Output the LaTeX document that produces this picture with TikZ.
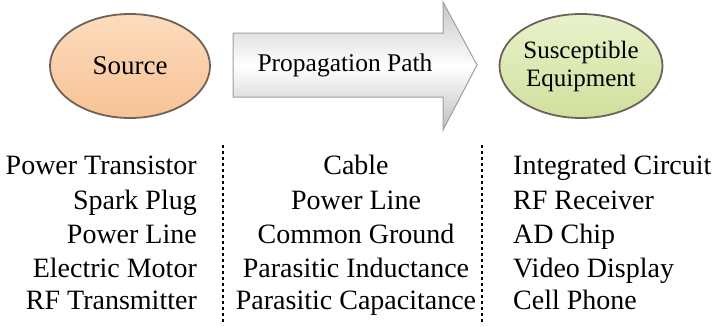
\documentclass[tikz,border=0pt]{standalone}
\usepackage{fontspec}
\setmainfont{Liberation Serif}
\usetikzlibrary{shapes.geometric}
\definecolor{peach}{HTML}{F8C295}
\definecolor{peachlt}{HTML}{FCDCBE}
\definecolor{leaf}{HTML}{D0E09C}
\definecolor{leaflt}{HTML}{E9F2CC}
\definecolor{rimc}{HTML}{6E6258}
\tikzset{
  listitem/.style={font=\fontsize{28}{28}\selectfont, inner sep=0pt},
  blob/.style={ellipse, minimum width=160pt, minimum height=104pt, draw=rimc, line width=1.8pt, align=center, inner sep=0pt},
  sep/.style={dash pattern=on 3pt off 3pt, line width=1.5pt, black}
}
\begin{document}
\begin{tikzpicture}[x=1pt,y=-1pt]
\useasboundingbox (0,0) rectangle (713,327);
% source
\node[blob, top color=peachlt, bottom color=peach, font=\fontsize{27}{27}\selectfont] (src) at (130,66) {Source};
% arrow
\path[draw=gray!75, line width=1pt, top color=gray!45, bottom color=gray!50, middle color=white]
  (233,33) -- (443,33) -- (443,2) -- (477,65) -- (443,130) -- (443,97) -- (233,97) -- cycle;
\node[font=\fontsize{25.5}{25.5}\selectfont, inner sep=0pt] (path) at (345,65) {Propagation Path};
% equipment
\node[blob, top color=leaflt, bottom color=leaf, font=\fontsize{25}{28}\selectfont] (eq) at (581,66) {Susceptible\\Equipment};
% separators
\coordinate (s1t) at (223,145); \coordinate (s1b) at (223,325);
\coordinate (s2t) at (482,145); \coordinate (s2b) at (482,325);
\draw[sep] (s1t) -- (s1b);
\draw[sep] (s2t) -- (s2b);
% left column
\node[listitem, anchor=base east] (l1) at (197,174) {Power Transistor};
\node[listitem, anchor=base east] (l2) at (197,209) {Spark Plug};
\node[listitem, anchor=base east] (l3) at (197,243) {Power Line};
\node[listitem, anchor=base east] (l4) at (197,277) {Electric Motor};
\node[listitem, anchor=base east] (l5) at (197,309) {RF Transmitter};
% middle column
\node[listitem, anchor=base] (m1) at (356,174) {Cable};
\node[listitem, anchor=base] (m2) at (356,209) {Power Line};
\node[listitem, anchor=base] (m3) at (356,243) {Common Ground};
\node[listitem, anchor=base] (m4) at (356,277) {Parasitic Inductance};
\node[listitem, anchor=base] (m5) at (356,309) {Parasitic Capacitance};
% right column
\node[listitem, anchor=base west] (r1) at (513,174) {Integrated Circuit};
\node[listitem, anchor=base west] (r2) at (513,209) {RF Receiver};
\node[listitem, anchor=base west] (r3) at (513,243) {AD Chip};
\node[listitem, anchor=base west] (r4) at (513,277) {Video Display};
\node[listitem, anchor=base west] (r5) at (513,309) {Cell Phone};
\end{tikzpicture}
\end{document}
